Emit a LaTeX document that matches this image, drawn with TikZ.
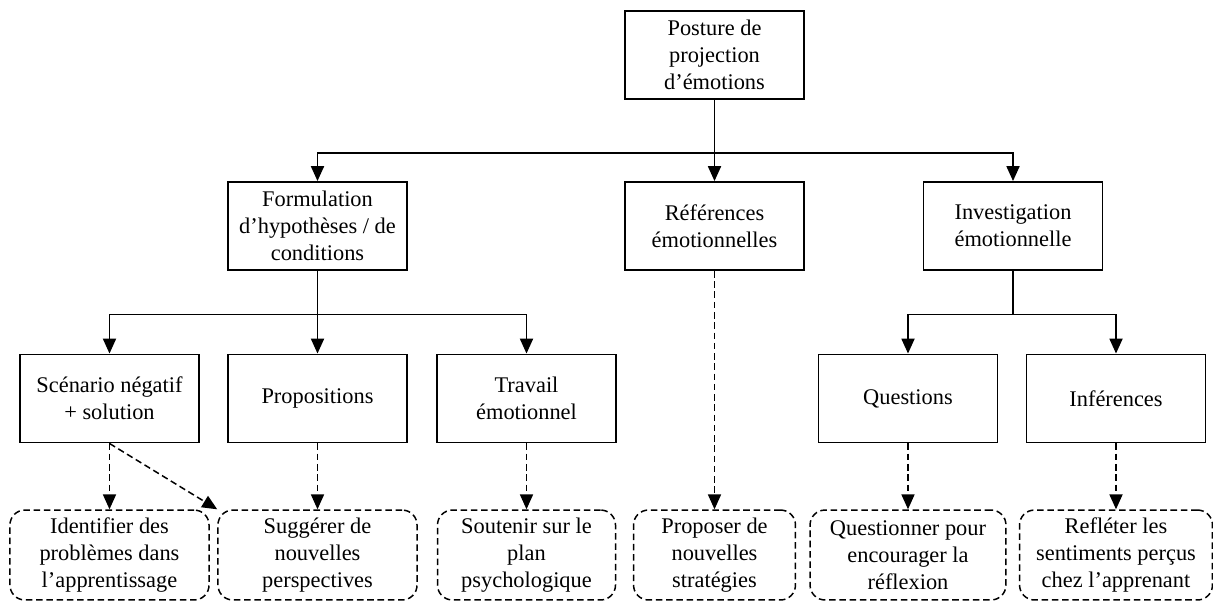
\documentclass[tikz,border=0pt]{standalone}
\usepackage{fontspec}
\setmainfont{Liberation Serif}
\usetikzlibrary{arrows.meta}

\begin{document}
\begin{tikzpicture}[x=0.536pt,y=-0.536pt,
    every node/.style={font=\fontsize{12}{14.4}\selectfont, align=center},
    box/.style={draw, line width=0.9pt, minimum width=95.9pt, minimum height=47.3pt, inner sep=2pt},
    goal/.style={draw, dash pattern=on 3.5pt off 2pt, rounded corners=8pt, line width=0.8pt, minimum height=48.2pt, inner sep=2pt},
    arr/.style={line width=0.9pt, -{Triangle[length=8pt,width=7pt]}},
    darr/.style={arr, line width=0.8pt, dash pattern=on 3.5pt off 2pt}]
    \useasboundingbox (0,0) rectangle (1213,603);

    \node[box] (posture) at (714.5,55) {Posture de\\projection\\d’émotions};

    \node[box] (formulation) at (317.5,226) {Formulation\\d’hypothèses / de\\conditions};
    \node[box] (references) at (714.5,226) {Références\\émotionnelles};
    \node[box] (investigation) at (1013,226) {Investigation\\émotionnelle};

    \node[box] (scenario) at (109.5,398.5) {Scénario négatif\\+ solution};
    \node[box] (propositions) at (317.5,398.5) {Propositions};
    \node[box] (travail) at (526.5,398.5) {Travail\\émotionnel};
    \node[box] (questions) at (908,398.5) {Questions};
    \node[box] (inferences) at (1116,398.5) {Inférences};

    \node[goal, minimum width=106.7pt] (identifier) at (109.5,555) {Identifier des\\problèmes dans\\l’apprentissage};
    \node[goal, minimum width=106.7pt] (suggerer) at (317.5,555) {Suggérer de\\nouvelles\\perspectives};
    \node[goal, minimum width=95.4pt] (soutenir) at (526.5,555) {Soutenir sur le\\plan\\psychologique};
    \node[goal, minimum width=86.8pt] (proposer) at (714.5,555) {Proposer de\\nouvelles\\stratégies};
    \node[goal, minimum width=105pt] (questionner) at (908,555) {Questionner pour\\encourager la\\réflexion};
    \node[goal, minimum width=103.4pt] (refleter) at (1116,555) {Refléter les\\sentiments perçus\\chez l’apprenant};

    \coordinate (bus1) at (714.5,153);
    \coordinate (bus2) at (317.5,314.5);
    \coordinate (bus3) at (1013,314.5);

    % solid links
    \draw[arr] (posture) -- (references);
    \draw[arr] (bus1) -| (formulation);
    \draw[arr] (bus1) -| (investigation);
    \draw[arr] (formulation) -- (propositions);
    \draw[arr] (bus2) -| (scenario);
    \draw[arr] (bus2) -| (travail);
    \draw[line width=0.9pt] (investigation) -- (bus3);
    \draw[arr] (bus3) -| (questions);
    \draw[arr] (bus3) -| (inferences);

    % dashed links
    \draw[darr] (scenario) -- (identifier);
    \draw[darr] (scenario.south) -- (suggerer.north west);
    \draw[darr] (propositions) -- (suggerer);
    \draw[darr] (travail) -- (soutenir);
    \draw[darr] (references) -- (proposer);
    \draw[darr] (questions) -- (questionner);
    \draw[darr] (inferences) -- (refleter);
\end{tikzpicture}
\end{document}
